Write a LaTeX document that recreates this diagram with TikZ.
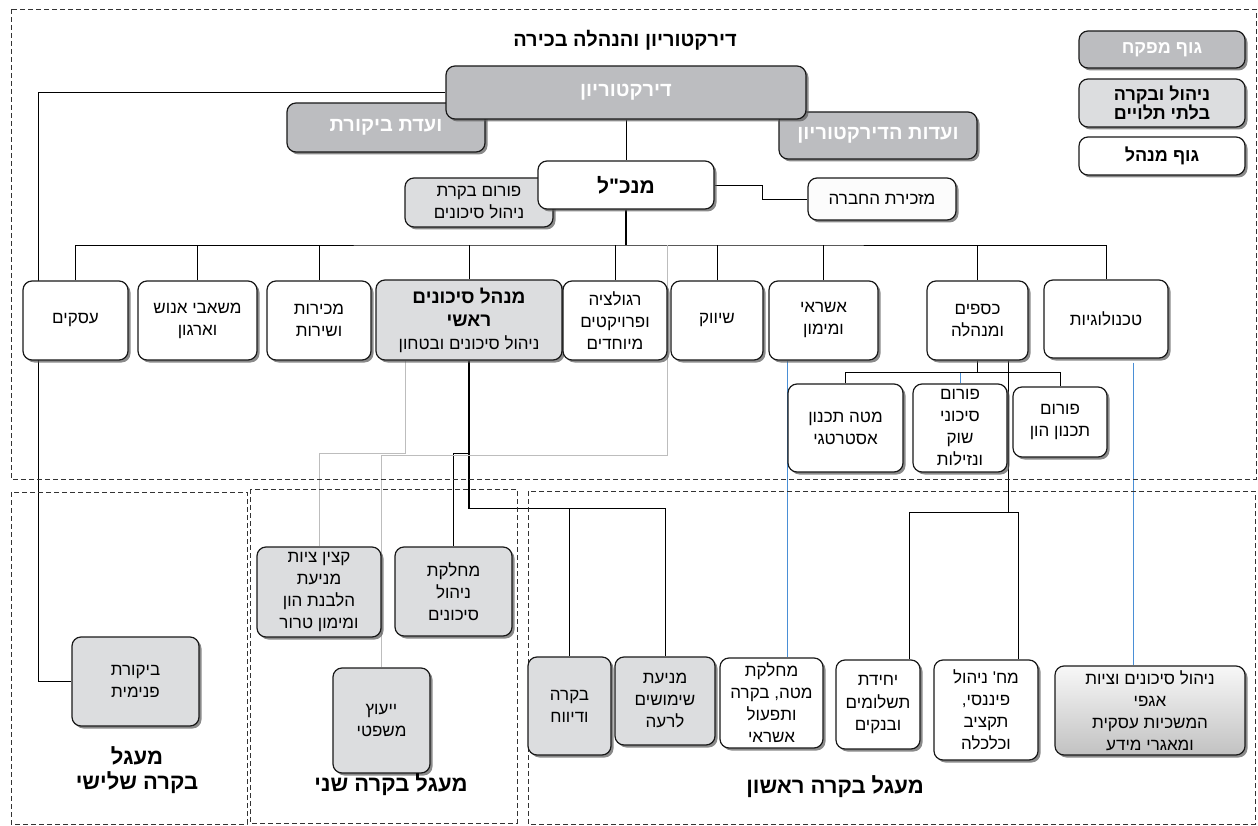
\documentclass[tikz,border=0pt]{standalone}
\usepackage{fontspec}
\newfontfamily\hebfont[Script=Hebrew,Ligatures=TeXOff]{Liberation Sans}
\TeXXeTstate=1
\usetikzlibrary{shadows,backgrounds}

\definecolor{boardgray}{HTML}{BCBDC0}
\definecolor{ctrlgray}{HTML}{DCDDDF}
\definecolor{linkblue}{HTML}{4A8FD6}
\definecolor{softgray}{HTML}{BDBDBD}

\newcommand{\heb}[1]{\beginR#1\endR}

\begin{document}
\begin{tikzpicture}[
    x=1pt, y=-1pt,
    unit/.style={draw=black!90, line width=1.2pt, rounded corners=9pt,
      align=center, inner sep=1pt,
      font=\hebfont\fontsize{17}{22}\selectfont,
      drop shadow={shadow xshift=2.5pt, shadow yshift=-2.5pt,
        fill=black!65, opacity=0.7}},
    boardunit/.style={unit, fill=boardgray, text=white,
      font=\hebfont\bfseries\fontsize{20}{22}\selectfont},
    ctrlunit/.style={unit, fill=ctrlgray},
    mgmtunit/.style={unit, fill=white},
    keyfont/.style={font=\hebfont\bfseries\fontsize{18}{19}\selectfont},
    heading/.style={font=\hebfont\bfseries\fontsize{22}{25}\selectfont,
      align=center},
    zone/.style={draw=black!80, line width=0.9pt, dash pattern=on 5pt off 3pt},
    link/.style={line width=0.9pt},
    mainlink/.style={line width=1.8pt},
    softlink/.style={softgray, line width=1pt},
    bluelink/.style={linkblue, line width=1pt}
  ]
  \useasboundingbox (0,0) rectangle (1258,826);

  % Dashed frames of the control circles
  \draw[zone] (11,9) rectangle (1256,479);
  \draw[zone] (11,492) rectangle (247,824);
  \draw[zone] (250,489) rectangle (517,823);
  \draw[zone] (528,491) rectangle (1255,824);

  % Board and senior management
  \node[heading, font=\hebfont\bfseries\fontsize{20}{25}\selectfont] (title)
    at (625,40) {\heb{דירקטוריון והנהלה בכירה}};
  \node[boardunit, minimum width=198pt, minimum height=49pt] (auditcom)
    at (386,127.5) {\heb{ועדת ביקורת}};
  \node[boardunit, minimum width=198pt, minimum height=47pt] (boardcom)
    at (878,135.5) {\heb{ועדות הדירקטוריון}};
  \node[boardunit, minimum width=360pt, minimum height=53pt] (board)
    at (626,92.5) {\heb{דירקטוריון}};

  % Legend
  \node[boardunit, keyfont, minimum width=166pt, minimum height=37pt] (keysup)
    at (1162,49.5) {\heb{גוף מפקח}};
  \node[ctrlunit, keyfont, minimum width=166pt, minimum height=48pt] (keyind)
    at (1162,103) {\heb{ניהול ובקרה}\\\heb{בלתי תלויים}};
  \node[mgmtunit, keyfont, minimum width=166pt, minimum height=38pt] (keymgr)
    at (1162,156) {\heb{גוף מנהל}};

  % CEO level
  \node[ctrlunit, minimum width=148pt, minimum height=49pt] (riskforum)
    at (479,202.5) {\heb{פורום בקרת}\\\heb{ניהול סיכונים}};
  \node[mgmtunit, minimum width=176pt, minimum height=48pt,
    font=\hebfont\bfseries\fontsize{21}{22}\selectfont] (ceo)
    at (626,185) {\heb{מנכ"ל}};
  \node[mgmtunit, fill=black!1, minimum width=148pt, minimum height=42pt]
    (secretary) at (882,199) {\heb{מזכירת החברה}};

  % Divisions
  \node[mgmtunit, minimum width=105pt, minimum height=79pt] (biz)
    at (75.5,320.5) {\heb{עסקים}};
  \node[mgmtunit, minimum width=119pt, minimum height=79pt] (hr)
    at (197.5,320.5) {\heb{משאבי אנוש}\\\heb{וארגון}};
  \node[mgmtunit, minimum width=104pt, minimum height=79pt] (sales)
    at (319,320.5) {\heb{מכירות}\\\heb{ושירות}};
  \node[ctrlunit, minimum width=186pt, minimum height=80pt,
    font=\hebfont\fontsize{17}{23}\selectfont] (cro)
    at (469,320) {\heb{\textbf{\fontsize{19}{23}\selectfont מנהל סיכונים}}\\
      \heb{\textbf{\fontsize{19}{23}\selectfont ראשי}}\\\heb{ניהול סיכונים ובטחון}};
  \node[mgmtunit, minimum width=104pt, minimum height=79pt] (reg)
    at (615,320.5) {\heb{רגולציה}\\\heb{ופרויקטים}\\\heb{מיוחדים}};
  \node[mgmtunit, minimum width=92pt, minimum height=79pt] (mkt)
    at (717,320.5) {\heb{שיווק}};
  \node[mgmtunit, minimum width=109pt, minimum height=79pt] (credit)
    at (823.5,320.5) {\heb{אשראי}\\\heb{ומימון}};
  \node[mgmtunit, minimum width=101pt, minimum height=79pt] (fin)
    at (977.5,320.5) {\heb{כספים}\\\heb{ומנהלה}};
  \node[mgmtunit, minimum width=124pt, minimum height=78pt] (tech)
    at (1106,319) {\heb{טכנולוגיות}};

  % Finance forums
  \node[mgmtunit, minimum width=115pt, minimum height=88pt] (strat)
    at (845.5,428) {\heb{מטה תכנון}\\\heb{אסטרטגי}};
  \node[mgmtunit, minimum width=94pt, minimum height=88pt] (mktrisk)
    at (960,428) {\heb{פורום}\\\heb{סיכוני}\\\heb{שוק}\\\heb{ונזילות}};
  \node[mgmtunit, minimum width=94pt, minimum height=70pt] (capital)
    at (1060,422) {\heb{פורום}\\\heb{תכנון הון}};

  % Third control circle
  \node[ctrlunit, minimum width=127pt, minimum height=89pt] (intaudit)
    at (135.5,681.5) {\heb{ביקורת}\\\heb{פנימית}};
  \node[heading] (thirdlabel) at (137,770) {\heb{מעגל}\\\heb{בקרה שלישי}};

  % Second control circle
  \node[ctrlunit, minimum width=124pt, minimum height=90pt] (aml)
    at (319,592) {\heb{קצין ציות}\\\heb{מניעת}\\\heb{הלבנת הון}\\\heb{ומימון טרור}};
  \node[ctrlunit, minimum width=117pt, minimum height=89pt] (riskdept)
    at (453.5,591.5) {\heb{מחלקת}\\\heb{ניהול}\\\heb{סיכונים}};
  \node[ctrlunit, minimum width=97pt, minimum height=105pt] (legal)
    at (381.5,720.5) {\heb{ייעוץ}\\\heb{משפטי}};
  \node[heading] (secondlabel) at (391,785) {\heb{מעגל בקרה שני}};

  % First control circle
  \node[ctrlunit, minimum width=83pt, minimum height=98pt] (report)
    at (569.5,706) {\heb{בקרה}\\\heb{ודיווח}};
  \node[ctrlunit, minimum width=100pt, minimum height=88pt] (misuse)
    at (665,701) {\heb{מניעת}\\\heb{שימושים}\\\heb{לרעה}};
  \node[mgmtunit, minimum width=103pt, minimum height=90pt] (creditops)
    at (771.5,703) {\heb{מחלקת}\\\heb{מטה, בקרה}\\\heb{ותפעול}\\\heb{אשראי}};
  \node[mgmtunit, minimum width=84pt, minimum height=89pt] (payments)
    at (878,704.5) {\heb{יחידת}\\\heb{תשלומים}\\\heb{ובנקים}};
  \node[mgmtunit, minimum width=104pt, minimum height=100pt] (finmgmt)
    at (986,710) {\heb{מח' ניהול}\\\heb{פיננסי,}\\\heb{תקציב}\\\heb{וכלכלה}};
  \node[unit, top color=black!3, bottom color=black!24,
    minimum width=190pt, minimum height=89pt] (bcm)
    at (1150,710.5) {\heb{ניהול סיכונים וציות}\\\heb{אגפי}\\\heb{המשכיות עסקית}\\\heb{ומאגרי מידע}};
  \node[heading] (firstlabel) at (835,787) {\heb{מעגל בקרה ראשון}};

  % Connectors
  \begin{scope}[on background layer]
    \coordinate (bus) at (626,245);
    \draw[link] (board.south) -- (ceo.north);
    \draw[link] (ceo.east) -- ++(48,0) |- (secretary.west);
    \draw[mainlink] (ceo.south) -- (bus);
    \draw[link] (biz.north) |- (bus) -| (tech.north);
    \foreach \dept in {hr,sales,cro,reg,mkt,credit,fin}
      \draw[link] (\dept.north) -- (\dept.north |- bus);

    % board to internal audit
    \draw[mainlink, line width=1.5pt] (board.west)
      -| ([xshift=-33pt]intaudit.west) -- (intaudit.west);

    % chief risk officer
    \draw[mainlink] (cro.south) -- ++(0,148) coordinate (crojoin);
    \draw[link] (crojoin) -| (misuse.north);
    \draw[link] (report.north) -- (report.north |- crojoin);
    \draw[link] ([yshift=-93pt]cro.south) -| (riskdept.north);
    \draw[softlink] ([xshift=-64pt]cro.south) -- ++(0,93) -| (aml.north);
    \draw[softlink] (reg.north east |- bus) -- ++(0,210) -| (legal.north);

    % blue links
    \draw[bluelink] ([xshift=19pt]credit.south west)
      -- ([xshift=19pt]credit.south west |- creditops.north);
    \draw[bluelink] ([xshift=27pt, yshift=-4pt]tech.south)
      -- ([xshift=27pt]tech.south |- bcm.north);

    % finance
    \draw[link] (fin.south) -- ++(0,12) coordinate (finsub);
    \draw[link] (strat.north) |- (finsub) -| (capital.north);
    \draw[bluelink] (mktrisk.north) -- (mktrisk.north |- finsub);
    \draw[mainlink] ([xshift=31pt]fin.south) -- ++(0,152) coordinate (finjoin);
    \draw[link] (finjoin) -| ([xshift=31pt]payments.north);
    \draw[link] (finjoin) -| ([xshift=32pt]finmgmt.north);
  \end{scope}

\end{tikzpicture}
\end{document}
